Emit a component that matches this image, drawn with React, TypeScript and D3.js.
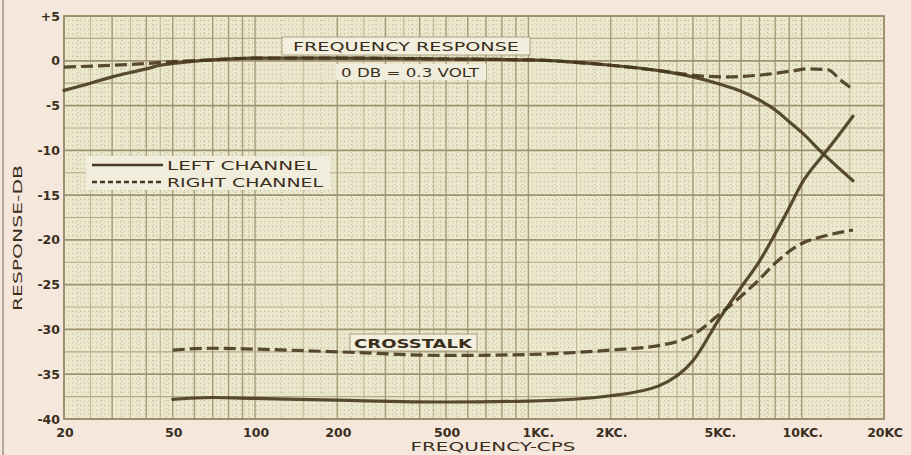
import React from "react";
import * as d3 from "d3";

// frequency response, left channel (solid)
const leftRespFreq = [20, 25, 30, 35, 40, 45, 50, 70, 100, 200, 500, 1000, 2000, 3000, 4000, 5000, 6000, 7000, 8000, 9000, 10000, 12000, 15400];
const leftRespDb = [-3.3, -2.5, -1.8, -1.3, -0.9, -0.5, -0.3, 0.1, 0.3, 0.3, 0.2, 0.1, -0.5, -1.1, -1.8, -2.6, -3.4, -4.4, -5.5, -6.8, -8.0, -10.4, -13.4];

// frequency response, right channel (dashed)
const rightRespFreq = [20, 30, 40, 50, 70, 100, 200, 500, 1000, 2000, 3000, 4300, 5400, 7000, 9400, 10500, 12500, 13800, 15400];
const rightRespDb = [-0.7, -0.5, -0.3, -0.1, 0.1, 0.3, 0.3, 0.2, 0.1, -0.5, -1.1, -1.7, -1.8, -1.6, -1.1, -0.9, -1.0, -2.1, -3.2];

// crosstalk
const leftXtalkFreq = [50, 70, 100, 200, 500, 1000, 2000, 3000, 4000, 5000, 6000, 7000, 8000, 9000, 10000, 12000, 13500, 15400];
const leftXtalkDb = [-37.8, -37.6, -37.7, -37.9, -38.1, -38.0, -37.4, -36.3, -33.5, -28.8, -25.3, -22.4, -19.3, -16.4, -13.7, -10.5, -8.5, -6.2];
const rightXtalkFreq = [50, 70, 100, 200, 500, 1000, 2000, 3000, 4000, 5000, 6000, 7000, 8000, 10000, 12000, 15400];
const rightXtalkDb = [-32.3, -32.1, -32.2, -32.5, -32.9, -32.8, -32.3, -31.8, -30.6, -28.3, -26.3, -24.4, -22.6, -20.4, -19.6, -18.9];

const xTicks = [20, 50, 100, 200, 500, 1000, 2000, 5000, 10000, 20000];
const xTickLabels = ["20", "50", "100", "200", "500", "1KC.", "2KC.", "5KC.", "10KC.", "20KC"];
const yTicks = [5, 0, -5, -10, -15, -20, -25, -30, -35, -40];
const yTickLabels = ["+5", "0", "-5", "-10", "-15", "-20", "-25", "-30", "-35", "-40"];

const W = 911;
const H = 455;
const INK = "#3a2e1c";
const CURVE = "#47381f";
const FONT = "'DejaVu Sans', sans-serif";

export default function App() {
  const x = d3.scaleLog().domain([20, 20000]).range([64, 884]);
  const y = d3.scaleLinear().domain([-40, 5]).range([419, 16]);

  const line = d3.line<[number, number]>()
    .x(d => x(d[0]))
    .y(d => y(d[1]))
    .curve(d3.curveMonotoneX);
  const zip = (f: number[], v: number[]) => f.map((k, i) => [k, v[i]] as [number, number]);

  // graph-paper grid
  const vMain: number[] = [];
  const vHalf: number[] = [];
  const vDot: number[] = [];
  [10, 100, 1000, 10000].forEach(b => {
    [1, 2, 3, 4, 5, 6, 7, 8, 9].forEach(m => vMain.push(b * m));
    [1.5, 2.5, 3.5, 4.5].forEach(m => vHalf.push(b * m));
    [1.25, 1.75, 2.25, 2.75, 3.25, 3.75, 4.25, 4.75, 5.5, 6.5, 7.5, 8.5, 9.5].forEach(m => vDot.push(b * m));
  });
  const inX = (f: number) => f >= 20 && f <= 20000;
  const hMajor = d3.range(-40, 5.01, 5);
  const hMid = d3.range(-37.5, 5, 5);
  const hDot = d3.range(-40, 5.01, 0.5).filter(v => Math.abs(v * 2) % 5 !== 0);

  const [x0, x1] = x.range();
  const [y0, y1] = y.range();

  return (
    <svg width={W} height={H} style={{ position: "fixed", left: 0, top: 0, background: "#f6e7dc" }}>
      <rect x={0} y={0} width={W} height={H} fill="#f6e7dc" />
      <line x1={3} x2={3} y1={0} y2={H} stroke="#9a9688" strokeWidth={1.5} />
      <rect x={x0} y={y1} width={x1 - x0} height={y0 - y1} fill="#eae7cd" />

      {/* fine dotted grid */}
      {hDot.map(v => (
        <line key={"hd" + v} x1={x0} x2={x1} y1={y(v)} y2={y(v)} stroke="#b3a786" strokeWidth={0.8} strokeDasharray="1 3" />
      ))}
      {vDot.filter(inX).map(f => (
        <line key={"vd" + f} x1={x(f)} x2={x(f)} y1={y1} y2={y0} stroke="#b3a786" strokeWidth={0.8} strokeDasharray="1 3" />
      ))}
      {vHalf.filter(inX).map(f => (
        <line key={"vh" + f} x1={x(f)} x2={x(f)} y1={y1} y2={y0} stroke="#bfb393" strokeWidth={1} />
      ))}
      {hMid.map(v => (
        <line key={"hm" + v} x1={x0} x2={x1} y1={y(v)} y2={y(v)} stroke="#b5a987" strokeWidth={1.1} />
      ))}
      {vMain.filter(inX).map(f => (
        <line key={"vm" + f} x1={x(f)} x2={x(f)} y1={y1} y2={y0} stroke="#a89a76" strokeWidth={1.4} />
      ))}
      {hMajor.map(v => (
        <line key={"hM" + v} x1={x0} x2={x1} y1={y(v)} y2={y(v)} stroke="#a0926e" strokeWidth={1.7} />
      ))}
      <rect x={x0} y={y1} width={x1 - x0} height={y0 - y1} fill="none" stroke="#9c8e6a" strokeWidth={1.8} />

      {/* annotation boxes */}
      <rect x={282} y={37} width={248} height={18} fill="#f3efdf" stroke="#9c8e6a" strokeWidth={0.8} />
      <text x={406} y={51} textAnchor="middle" fontFamily={FONT} fontSize={13} fill={INK} textLength={226} lengthAdjust="spacingAndGlyphs">FREQUENCY RESPONSE</text>
      <rect x={336} y={64} width={150} height={16} fill="#f1eddc" />
      <text x={410} y={77} textAnchor="middle" fontFamily={FONT} fontSize={12} fill={INK} textLength={138} lengthAdjust="spacingAndGlyphs">0 DB = 0.3 VOLT</text>

      <rect x={86} y={156} width={244} height={34} fill="#f1eddc" />
      <line x1={92} x2={163} y1={165} y2={165} stroke={CURVE} strokeWidth={2.4} />
      <line x1={92} x2={161} y1={182} y2={182} stroke={CURVE} strokeWidth={2.4} strokeDasharray="5 3" />
      <text x={167} y={170} fontFamily={FONT} fontSize={12} fill={INK} textLength={150} lengthAdjust="spacingAndGlyphs">LEFT CHANNEL</text>
      <text x={167} y={187} fontFamily={FONT} fontSize={12} fill={INK} textLength={156} lengthAdjust="spacingAndGlyphs">RIGHT CHANNEL</text>

      <rect x={350} y={334} width={127} height={17} fill="#f3efdf" stroke="#9c8e6a" strokeWidth={0.8} />
      <text x={413} y={347.5} textAnchor="middle" fontFamily={FONT} fontWeight="bold" fontSize={12} fill={INK} textLength={118} lengthAdjust="spacingAndGlyphs">CROSSTALK</text>

      {/* curves */}
      <g fill="none" stroke={CURVE} strokeWidth={3.2} strokeLinecap="round" strokeOpacity={0.9}>
        <path d={line(zip(leftRespFreq, leftRespDb)) || ""} />
        <path d={line(zip(rightRespFreq, rightRespDb)) || ""} strokeDasharray="12 5" strokeLinecap="butt" />
        <path d={line(zip(leftXtalkFreq, leftXtalkDb)) || ""} />
        <path d={line(zip(rightXtalkFreq, rightXtalkDb)) || ""} strokeDasharray="12 5" strokeLinecap="butt" />
      </g>

      {/* axes labels */}
      {yTicks.map((v, i) => (
        <text key={"yt" + v} x={60} y={y(v) + 4.5} textAnchor="end" fontFamily={FONT} fontWeight="bold" fontSize={12.5} fill={INK}>
          {yTickLabels[i]}
        </text>
      ))}
      {xTicks.map((f, i) => (
        <text key={"xt" + f} x={x(f) + (i === 5 ? 10 : 1)} y={437} textAnchor="middle" fontFamily={FONT} fontWeight="bold" fontSize={12.5} fill={INK}>
          {xTickLabels[i]}
        </text>
      ))}
      <text x={493} y={451} textAnchor="middle" fontFamily={FONT} fontSize={12} fill={INK} textLength={165} lengthAdjust="spacingAndGlyphs">FREQUENCY-CPS</text>
      <text transform="translate(22,238) rotate(-90)" textAnchor="middle" fontFamily={FONT} fontSize={12} fill={INK} textLength={146} lengthAdjust="spacingAndGlyphs">RESPONSE-DB</text>
    </svg>
  );
}
